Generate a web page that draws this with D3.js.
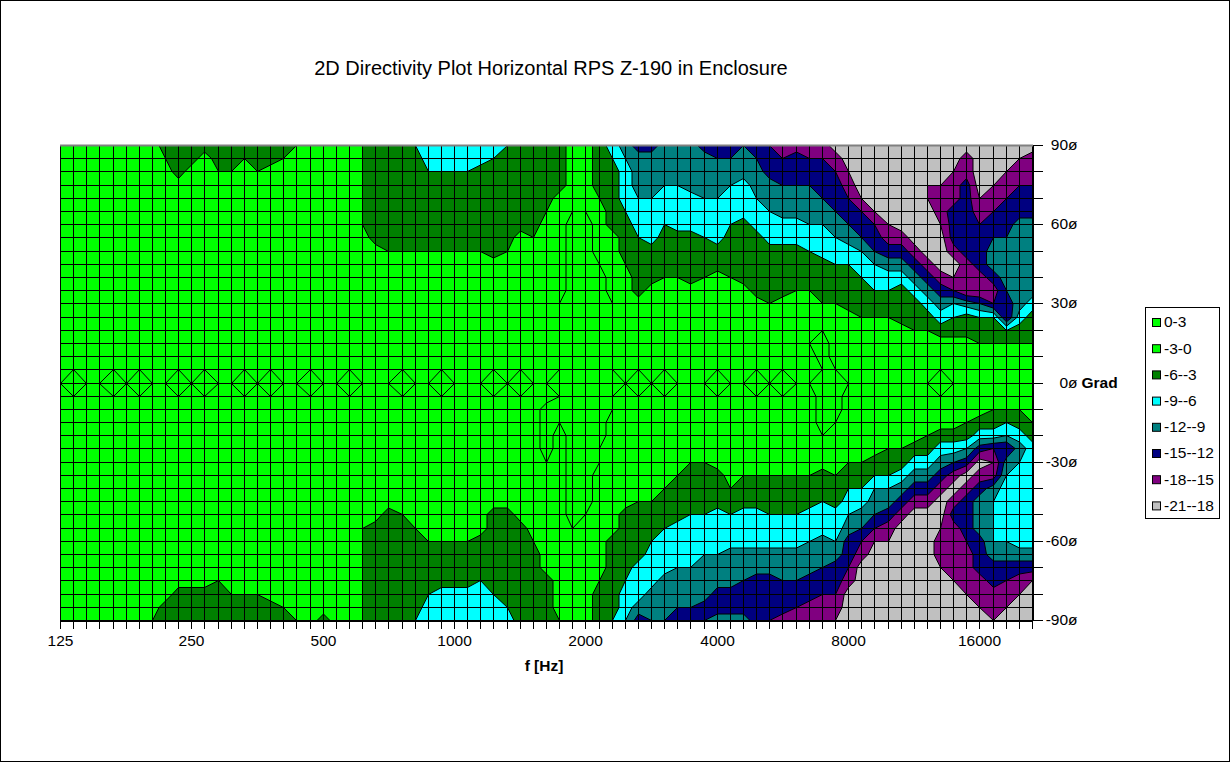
<!DOCTYPE html>
<html><head><meta charset="utf-8">
<script src="https://cdn.jsdelivr.net/npm/d3@7"></script>
<style>
body{margin:0;background:#fff}
svg{display:block}
text{font-family:Arial,"Liberation Sans",sans-serif;fill:#000}
</style>
</head><body>
<svg id="chart" width="1231" height="763"></svg>
<script>
const chartTitle = "2D Directivity Plot Horizontal RPS Z-190 in Enclosure";
const xAxisTitle = "f [Hz]";
const freqTickLabels = ["125","250","500","1000","2000","4000","8000","16000"]; // every 10th category
const angles = [90,85,80,75,70,65,60,55,50,45,40,35,30,25,20,15,10,5,0,-5,-10,-15,-20,-25,-30,-35,-40,-45,-50,-55,-60,-65,-70,-75,-80,-85,-90];
const angleTickValues = [90,80,70,60,50,40,30,20,10,0,-10,-20,-30,-40,-50,-60,-70,-80,-90];
const angleTickLabels = {"90":"90ø","60":"60ø","30":"30ø","0":"0ø","-30":"-30ø","-60":"-60ø","-90":"-90ø"};
const bandLabels = ["0-3","-3-0","-6--3","-9--6","-12--9","-15--12","-18--15","-21--18"];
const bandLower = [0,-3,-6,-9,-12,-15,-18,-21];
const bandColors = ["#00ff00","#00ff00","#008000","#00ffff","#008080","#000080","#800080","#c0c0c0"];

// level code per cell: dB = -1.5 * (index in levelCode - 1)   ('+' = +1.5, '0' = 0, '1' = -1.5 ... 'd' = -19.5)
const levelCode = "+0123456789abcd";
// one string per frequency category (left to right): +90..+5 deg, 0 deg, -5..-90 deg
const profiles = [
"111111111111111111"+"0"+"111111111111111111",
"111111111111111110"+"0"+"011111111111111111",
"111111111111111111"+"0"+"111111111111111111",
"111111111111111111"+"0"+"111111111111111111",
"111111111111111110"+"0"+"011111111111111111",
"111111111111111111"+"0"+"111111111111111111",
"111111111111111110"+"0"+"011111111111111111",
"111111111111111111"+"0"+"111111111111111112",
"321111111111111111"+"0"+"111111111111111133",
"333111111111111110"+"0"+"011111111111111333",
"331111111111111111"+"0"+"111111111111111333",
"311111111111111110"+"0"+"011111111111111333",
"332111111111111111"+"0"+"111111111111112333",
"332111111111111111"+"0"+"111111111111111233",
"321111111111111110"+"0"+"011111111111111233",
"332111111111111111"+"0"+"111111111111111233",
"331111111111111110"+"0"+"011111111111111133",
"321111111111111111"+"0"+"111111111111111123",
"211111111111111111"+"0"+"111111111111111112",
"111111111111111110"+"0"+"011111111111111111",
"111111111111111111"+"0"+"111111111111111113",
"111111111111111111"+"0"+"111111111111111111",
"111111111111111110"+"0"+"011111111111111111",
"222222211111111111"+"0"+"111111111122222222",
"333333331111111111"+"0"+"111111111133333333",
"333333332111111111"+"0"+"111111111333333333",
"333333332111111110"+"0"+"011111111233333333",
"433333332111111111"+"0"+"111111111123333334",
"554333332111111111"+"0"+"111111111112333455",
"554333332111111110"+"0"+"011111111112333555",
"554333332111111111"+"0"+"111111111112333555",
"554333332111111111"+"0"+"111111111112333555",
"553333332111111111"+"0"+"111111111113334555",
"543333333111111110"+"0"+"011111111333333455",
"433333332111111111"+"0"+"111111111333333345",
"333333311111111110"+"0"+"011111111133333333",
"333333321111111111"+"0"+"111111111112333333",
"333332111111111111"+"0"+"1++++0111111113333",
"333311111111000000"+"0"+"000111111111111112",
"111110++++++++++++"+"+"+"++++++++++01111111",
"111110++++++++++++"+"+"+"+++++++++011111111",
"3333211110++++++++"+"+"+"++++00111111112333",
"543333311111000000"+"0"+"001111111113333334",
"765554333211111111"+"0"+"111111111333334556",
"977765543333111110"+"0"+"011111112333355579",
"977765553331111111"+"0"+"111111112334555778",
"777655433321111110"+"0"+"011111123345557778",
"777655533321111111"+"0"+"111111233355567789",
"777755533331111111"+"0"+"111112333455567789",
"977765543321111111"+"0"+"111112333455677798",
"987765553311111110"+"0"+"011111333555677997",
"987655433321111111"+"0"+"111111123455777997",
"877555333331111111"+"0"+"111111233555778997",
"987765533333111110"+"0"+"011111233555779999",
"a99776553333211111"+"0"+"11111123345577999a",
"ba9877553333111110"+"0"+"01111123345577899b",
"b99877553332111111"+"0"+"1111112334557789ab",
"ba9877654332111011"+"0"+"1111112335567799bb",
"ba9987655333210++0"+"+"+"+++011334557789abc",
"dba998765433211110"+"+"+"++0111233556799abcd",
"ddcba9875433311111"+"0"+"1111123456799abddd",
"ddddca986543321111"+"0"+"11111234578abddddd",
"dddddca98654321111"+"0"+"1111134678acdddddd",
"ddddddcb9754321111"+"0"+"1111234679bcdddddd",
"dddddddb9753331111"+"0"+"111123579bdddddddd",
"ddddddddb975332111"+"0"+"11113579bddddddddd",
"dddccddddb97532111"+"0"+"11123579bddddddddd",
"dddcbbcdddb9753110"+"0"+"0113579bddcbbcdddd",
"ddcbb999bdca643111"+"0"+"111358bdb9bbbbcddd",
"dbb999999bbc733111"+"0"+"112369db999abbbcdd",
"ddddcba999bc843211"+"0"+"11359db9777999bbcd",
"dddcba98779ba43211"+"0"+"1235acb76666799bbc",
"ddcba99877789a4211"+"0"+"1246a765555679abcd",
"dcba99777777753211"+"0"+"12357665555579bcdd",
"dbba99777777533211"+"0"+"11235665555579cddd"
];

const nx = profiles.length, ny = angles.length;
const values = new Array(nx * ny);
for (let i = 0; i < nx; i++) {
  const s = profiles[i];
  for (let j = 0; j < ny; j++) {
    const ch = s[j] !== undefined ? s[j] : "1";
    const k = levelCode.indexOf(ch);
    values[j * nx + i] = -1.5 * ((k < 0 ? 2 : k) - 1);
  }
}

const svg = d3.select("#chart");
const W = 1231, H = 763;
const plot = {left: 60, right: 1032, top: 145, bottom: 620};

svg.append("rect").attr("x",0.5).attr("y",0.5).attr("width",W-2).attr("height",H-2)
  .attr("fill","#fff").attr("stroke","#000");

const x = d3.scaleLinear().domain([0, nx - 1]).range([plot.left, plot.right]);
const y = d3.scaleLinear().domain([angles[0], angles[ny - 1]]).range([plot.top, plot.bottom]);
// pixel-snapped piecewise scales (category index / row index -> crisp pixel line)
const xPix = d3.scaleLinear().domain(d3.range(nx)).range(d3.range(nx).map(i => Math.round(x(i)) + 0.5));
const yPix = d3.scaleLinear().domain(d3.range(ny)).range(angles.map(a => Math.round(y(a)) + 0.5));

svg.append("defs").append("clipPath").attr("id","clip")
  .append("rect").attr("x",plot.left).attr("y",plot.top)
  .attr("width",plot.right-plot.left+1).attr("height",plot.bottom-plot.top+1);

const thresholdsAsc = bandLower.slice().reverse();
const contours = d3.contours().size([nx, ny]).thresholds(thresholdsAsc)(values);
const proj = d3.geoTransform({
  point(px, py) { this.stream.point(xPix(px - 0.5), yPix(py - 0.5)); }
});
const path = d3.geoPath(proj);
const colorOf = t => bandColors[bandLower.indexOf(t)];

const g = svg.append("g").attr("clip-path","url(#clip)");
g.append("rect").attr("x",plot.left).attr("y",plot.top)
  .attr("width",plot.right-plot.left).attr("height",plot.bottom-plot.top).attr("fill","#c0c0c0");
g.selectAll("path.fill").data(contours).join("path")
  .attr("class","fill").attr("d", path).attr("fill", d => colorOf(d.value)).attr("stroke","none");
g.selectAll("path.line").data(contours).join("path")
  .attr("class","line").attr("d", path).attr("fill","none").attr("stroke","#000").attr("stroke-width",1);

// grid lines
const grid = svg.append("g").attr("shape-rendering","crispEdges");
grid.selectAll("line.v").data(d3.range(nx)).join("line")
  .attr("x1", i => xPix(i)).attr("x2", i => xPix(i))
  .attr("y1", yPix(0)).attr("y2", yPix(ny - 1)).attr("stroke","#000");
grid.selectAll("line.h").data(d3.range(ny)).join("line")
  .attr("y1", j => yPix(j)).attr("y2", j => yPix(j))
  .attr("x1", xPix(0)).attr("x2", xPix(nx - 1)).attr("stroke","#000");
svg.append("line").attr("x1",plot.left).attr("x2",plot.right+1)
  .attr("y1",plot.top+0.5).attr("y2",plot.top+0.5).attr("stroke","#808080").attr("stroke-width",2);

// x axis
const xAxis = d3.axisBottom(x).tickValues(d3.range(nx)).tickSize(8).tickPadding(6)
  .tickFormat(i => i % 10 === 0 ? freqTickLabels[i / 10] : "");
const gx = svg.append("g").attr("transform",`translate(0,${yPix(ny - 1)})`)
  .attr("shape-rendering","crispEdges").call(xAxis);
gx.selectAll(".tick").attr("transform", i => `translate(${xPix(i)},0)`);
gx.select(".domain").attr("stroke","#000");
gx.selectAll("line").attr("stroke","#000");
gx.selectAll("text").attr("font-size","15.5px").attr("font-family","Arial, 'Liberation Sans', sans-serif").attr("fill","#000");

// y axis (right)
const yAxis = d3.axisRight(y).tickValues(angleTickValues).tickSize(10).tickPadding(4)
  .tickFormat(a => angleTickLabels[String(a)] || "");
const gy = svg.append("g").attr("transform",`translate(${xPix(nx - 1)},0)`)
  .attr("shape-rendering","crispEdges").call(yAxis);
gy.selectAll(".tick").attr("transform", a => `translate(0,${Math.round(y(a))+0.5})`);
gy.select(".domain").attr("stroke","#000");
gy.selectAll("line").attr("stroke","#000");
gy.selectAll("text").attr("font-size","15.5px").attr("font-family","Arial, 'Liberation Sans', sans-serif")
  .attr("text-anchor","end").attr("x",45).attr("fill","#000");
gy.selectAll(".tick").filter(a => a === 0).append("text")
  .attr("x",49).attr("dy","0.32em").attr("font-size","15.5px").attr("font-weight","bold")
  .attr("font-family","Arial, 'Liberation Sans', sans-serif").attr("fill","#000").text("Grad");

// titles
svg.append("text").attr("x",551).attr("y",75).attr("text-anchor","middle")
  .attr("font-size","20px").text(chartTitle);
svg.append("text").attr("x",544).attr("y",671).attr("text-anchor","middle")
  .attr("font-size","15.5px").attr("font-weight","bold").text(xAxisTitle);

// legend
const lg = svg.append("g").attr("transform","translate(1145,307)");
lg.append("rect").attr("x",0.5).attr("y",0.5).attr("width",74).attr("height",211)
  .attr("fill","#fff").attr("stroke","#000");
const items = lg.selectAll("g.item").data(bandLabels).join("g").attr("class","item")
  .attr("transform",(d,k) => `translate(0,${15 + k * 26.2})`);
items.append("rect").attr("x",7.5).attr("y",-3.5).attr("width",8).attr("height",8)
  .attr("fill",(d,k) => bandColors[k]).attr("stroke","#000");
items.append("text").attr("x",19).attr("dy","0.35em").attr("font-size","15.5px").text(d => d);
</script>
</body></html>
